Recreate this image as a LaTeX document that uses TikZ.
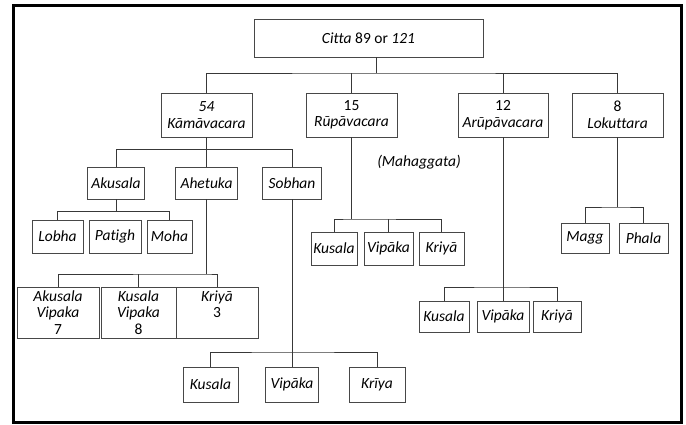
\documentclass[tikz,border=0pt]{standalone}
\usepackage{fontspec}
\setmainfont{Carlito}[Ligatures=NoCommon]
\begin{document}
\begin{tikzpicture}[x=1pt,y=-1pt,
  box/.style={draw=black!72,line width=0.9pt,fill=white,inner sep=0pt,align=center,
    font=\fontsize{15.5}{16.5}\selectfont\itshape},
  conn/.style={draw=black!78,line width=0.9pt},
  lbl/.style={inner sep=0pt,font=\fontsize{15.5}{16.5}\selectfont\itshape}]
\useasboundingbox (0,0) rectangle (686,425);
\draw[line width=3pt] (13.5,6) rectangle (681,422.5);

% root
\node[box,minimum width=229,minimum height=38] (citta) at (368.5,38) {Citta \upshape 89 or \itshape 121};
% level 1
\node[box,minimum width=91,minimum height=44] (kama) at (206.5,115) {54\\Kāmāvacara};
\node[box,minimum width=91,minimum height=44] (rupa) at (351.5,115) {\upshape 15\\\itshape Rūpāvacara};
\node[box,minimum width=90,minimum height=44] (arupa) at (503,115) {\upshape 12\\\itshape Arūpāvacara};
\node[box,minimum width=91,minimum height=44] (lok) at (617.5,115) {\upshape 8\\\itshape Lokuttara};

\coordinate (cj) at (376,73);
\draw[conn] (citta.south -| cj) -- (cj);
\draw[conn] (kama.north) |- (cj) -| (lok.north);
\draw[conn] (rupa.north) -- (rupa.north |- cj);
\draw[conn] (arupa.north) -- (arupa.north |- cj);

% Kamavacara children
\node[box,minimum width=57,minimum height=32] (akus) at (116,183) {Akusala};
\node[box,minimum width=62,minimum height=32] (ahet) at (206.5,183) {Ahetuka};
\node[box,minimum width=59,minimum height=32] (sobh) at (292,183) {Sobhan};
\coordinate (kj) at (206.5,149.5);
\draw[conn] (kama.south) -- (ahet.north);
\draw[conn] (akus.north) |- (kj) -| (sobh.north);

% Akusala children
\node[box,minimum width=51,minimum height=33] (lobha) at (57.5,236.5) {Lobha};
\node[box,minimum width=52,minimum height=33] (patigh) at (115,236.5) {Patigh};
\node[box,minimum width=45,minimum height=33] (moha) at (169.5,236.5) {Moha};
\coordinate (aj) at (116,211.5);
\draw[conn] (akus.south) -- (aj);
\draw[conn] (lobha.north) |- (aj) -| (moha.north);

% Ahetuka children
\node[box,minimum width=82,minimum height=51] (av) at (58,312.5) {Akusala\\Vipaka\\\upshape 7};
\node[box,minimum width=75,minimum height=51] (kv) at (138.5,312.5) {Kusala\\Vipaka\\\upshape 8};
\node[box,minimum width=82,minimum height=51] (hk) at (217,312.5) {Kriyā\\\upshape 3\\~};
\coordinate (hj) at (206.5,274);
\draw[conn] (ahet.south) -- (hj);
\draw[conn] (av.north) |- (hj) -| (hk.north);
\draw[conn] (kv.north) -- (kv.north |- hj);

% Sobhan children
\node[box,minimum width=55,minimum height=35] (sku) at (210.5,384.5) {Kusala};
\node[box,minimum width=53,minimum height=35] (svi) at (292,384.5) {Vipāka};
\node[box,minimum width=56,minimum height=35] (skr) at (377,384.5) {Krīya};
\draw[conn] (sobh.south) -- (svi.north);
\draw[conn] (sku.north) |- (svi.north |- 0,352) -| (skr.north);

% Rupavacara children
\node[box,minimum width=46,minimum height=33] (rku) at (334,248.5) {Kusala};
\node[box,minimum width=49,minimum height=33] (rvi) at (388.5,248.5) {Vipāka};
\node[box,minimum width=45,minimum height=33] (rkr) at (441.5,248.5) {Kriyā};
\coordinate (rj) at (351.5,219);
\draw[conn] (rupa.south) -- (rj);
\draw[conn] (rku.north) |- (rj) -| (rkr.north);
\draw[conn] (rvi.north) -- (rvi.north |- rj);

\node[lbl] (mahag) at (419,162) {(Mahaggata)};

% Arupavacara children
\node[box,minimum width=50,minimum height=31] (aku) at (444,316.5) {Kusala};
\node[box,minimum width=52,minimum height=31] (avi) at (503,316.5) {Vipāka};
\node[box,minimum width=48,minimum height=31] (akr) at (557,316.5) {Kriyā};
\draw[conn] (arupa.south) -- (avi.north);
\draw[conn] (aku.north) |- (avi.north |- 0,287) -| (akr.north);

% Lokuttara children
\node[box,minimum width=48,minimum height=30] (magg) at (585,238) {Magg};
\node[box,minimum width=49,minimum height=30] (phala) at (643.5,238) {Phala};
\coordinate (lj) at (617.5,207);
\draw[conn] (lok.south) -- (lj);
\draw[conn] (magg.north) |- (lj) -| (phala.north);
\end{tikzpicture}
\end{document}
